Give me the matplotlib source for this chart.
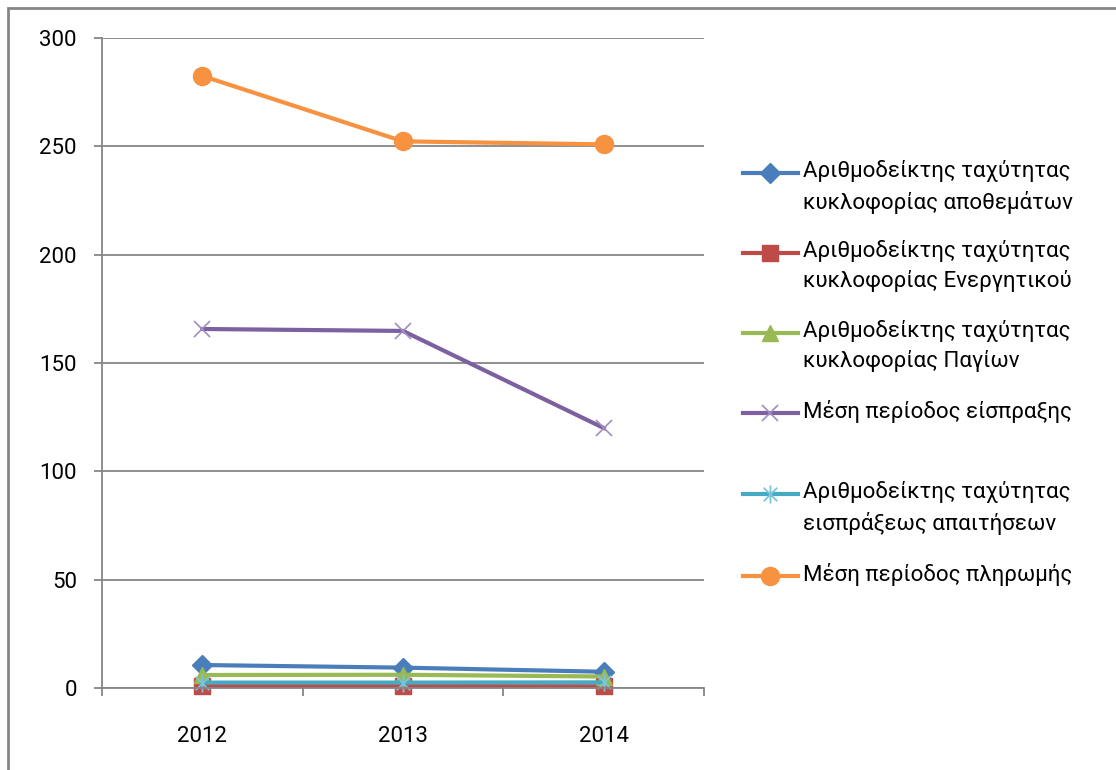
import matplotlib.pyplot as plt
from matplotlib.lines import Line2D
from matplotlib.patches import Rectangle
from matplotlib.path import Path

plt.rcParams['font.family'] = ['Roboto', 'DejaVu Sans']

# dedomena
years = ['2012', '2013', '2014']
apothemata = [10.6, 9.4, 7.5]
energitiko = [0.9, 0.9, 0.8]
pagia = [6.0, 6.1, 5.3]
eispraxi = [165.7, 164.8, 120.0]
apaitiseis = [2.5, 2.5, 2.6]
pliromi = [282.5, 252.3, 250.9]

labels = ['Αριθμοδείκτης ταχύτητας\nκυκλοφορίας αποθεμάτων',
          'Αριθμοδείκτης ταχύτητας\nκυκλοφορίας Ενεργητικού',
          'Αριθμοδείκτης ταχύτητας\nκυκλοφορίας Παγίων',
          'Μέση περίοδος είσπραξης',
          'Αριθμοδείκτης ταχύτητας\nεισπράξεως απαιτήσεων',
          'Μέση περίοδος πληρωμής']

# asteraki opws sto excel (katheti + x)
star = Path([(0, -1), (0, 1), (-0.75, -0.75), (0.75, 0.75), (-0.75, 0.75), (0.75, -0.75)],
            [Path.MOVETO, Path.LINETO] * 3)

W, H = 1116, 770
fig = plt.figure(figsize=(W / 100, H / 100), dpi=100)
ax = fig.add_axes([102 / W, 1 - 688 / H, (704 - 102) / W, 650 / H])

styles = [
    dict(color='#4A7EBB', marker='D', ms=10, mfc='#4A7EBB', mec='#4A7EBB', mew=1),
    dict(color='#BE4B48', marker='s', ms=12, mfc='#BE4B48', mec='#BE4B48', mew=1),
    dict(color='#98B954', marker='^', ms=12, mfc='#98B954', mec='#98B954', mew=1),
    dict(color='#7D60A0', marker='x', ms=12, mfc='none', mec='#A08CC0', mew=1.2),
    dict(color='#46AAC5', marker=star, ms=13, mfc='none', mec='#7CC4D8', mew=1.3),
    dict(color='#F69240', marker='o', ms=13, mfc='#F69240', mec='#F69240', mew=1),
]
series = [apothemata, energitiko, pagia, eispraxi, apaitiseis, pliromi]

x = range(len(years))
for vals, st in zip(series, styles):
    ax.plot(x, vals, lw=3, clip_on=False, **st)

ax.set_xlim(-0.5, 2.5)
ax.set_ylim(0, 300)
ax.set_yticks(range(0, 301, 50))
ax.set_xticks(list(x))
ax.set_xticklabels(years)
ax.set_xticks([-0.5, 0.5, 1.5, 2.5], minor=True)
ax.grid(axis='y', color='#868686', lw=1.3)
ax.set_axisbelow(True)
for s in ['top', 'right']:
    ax.spines[s].set_visible(False)
for s in ['left', 'bottom']:
    ax.spines[s].set_color('#868686')
    ax.spines[s].set_linewidth(1.3)
ax.tick_params(axis='y', length=6, color='#868686', width=1.3, labelsize=16, pad=12)
ax.tick_params(axis='x', which='major', length=0, labelsize=16, pad=27)
ax.tick_params(axis='x', which='minor', length=6, color='#868686', width=1.3)

# legenda
ys = [173, 253, 333, 413, 494, 576]
for y, st, lab in zip(ys, styles, labels):
    fig.add_artist(Line2D([743 / W, 798 / W], [1 - y / H] * 2, lw=3,
                          transform=fig.transFigure, color=st['color'],
                          linestyle='-'))
    fig.add_artist(Line2D([770 / W], [1 - y / H], transform=fig.transFigure,
                          linestyle='none', marker=st['marker'], ms=st['ms'],
                          mfc=st['mfc'], mec=st['mec'], mew=st['mew']))
    fig.text(803 / W, 1 - (y - 13) / H, lab, fontsize=16, va='top', ha='left',
             linespacing=1.5)

fig.add_artist(Rectangle((8 / W, -0.1), 1.2, 1 - 8 / H + 0.1, fill=False,
                         edgecolor='#868686', lw=2, transform=fig.transFigure))

fig.savefig('out.png', dpi=100)
